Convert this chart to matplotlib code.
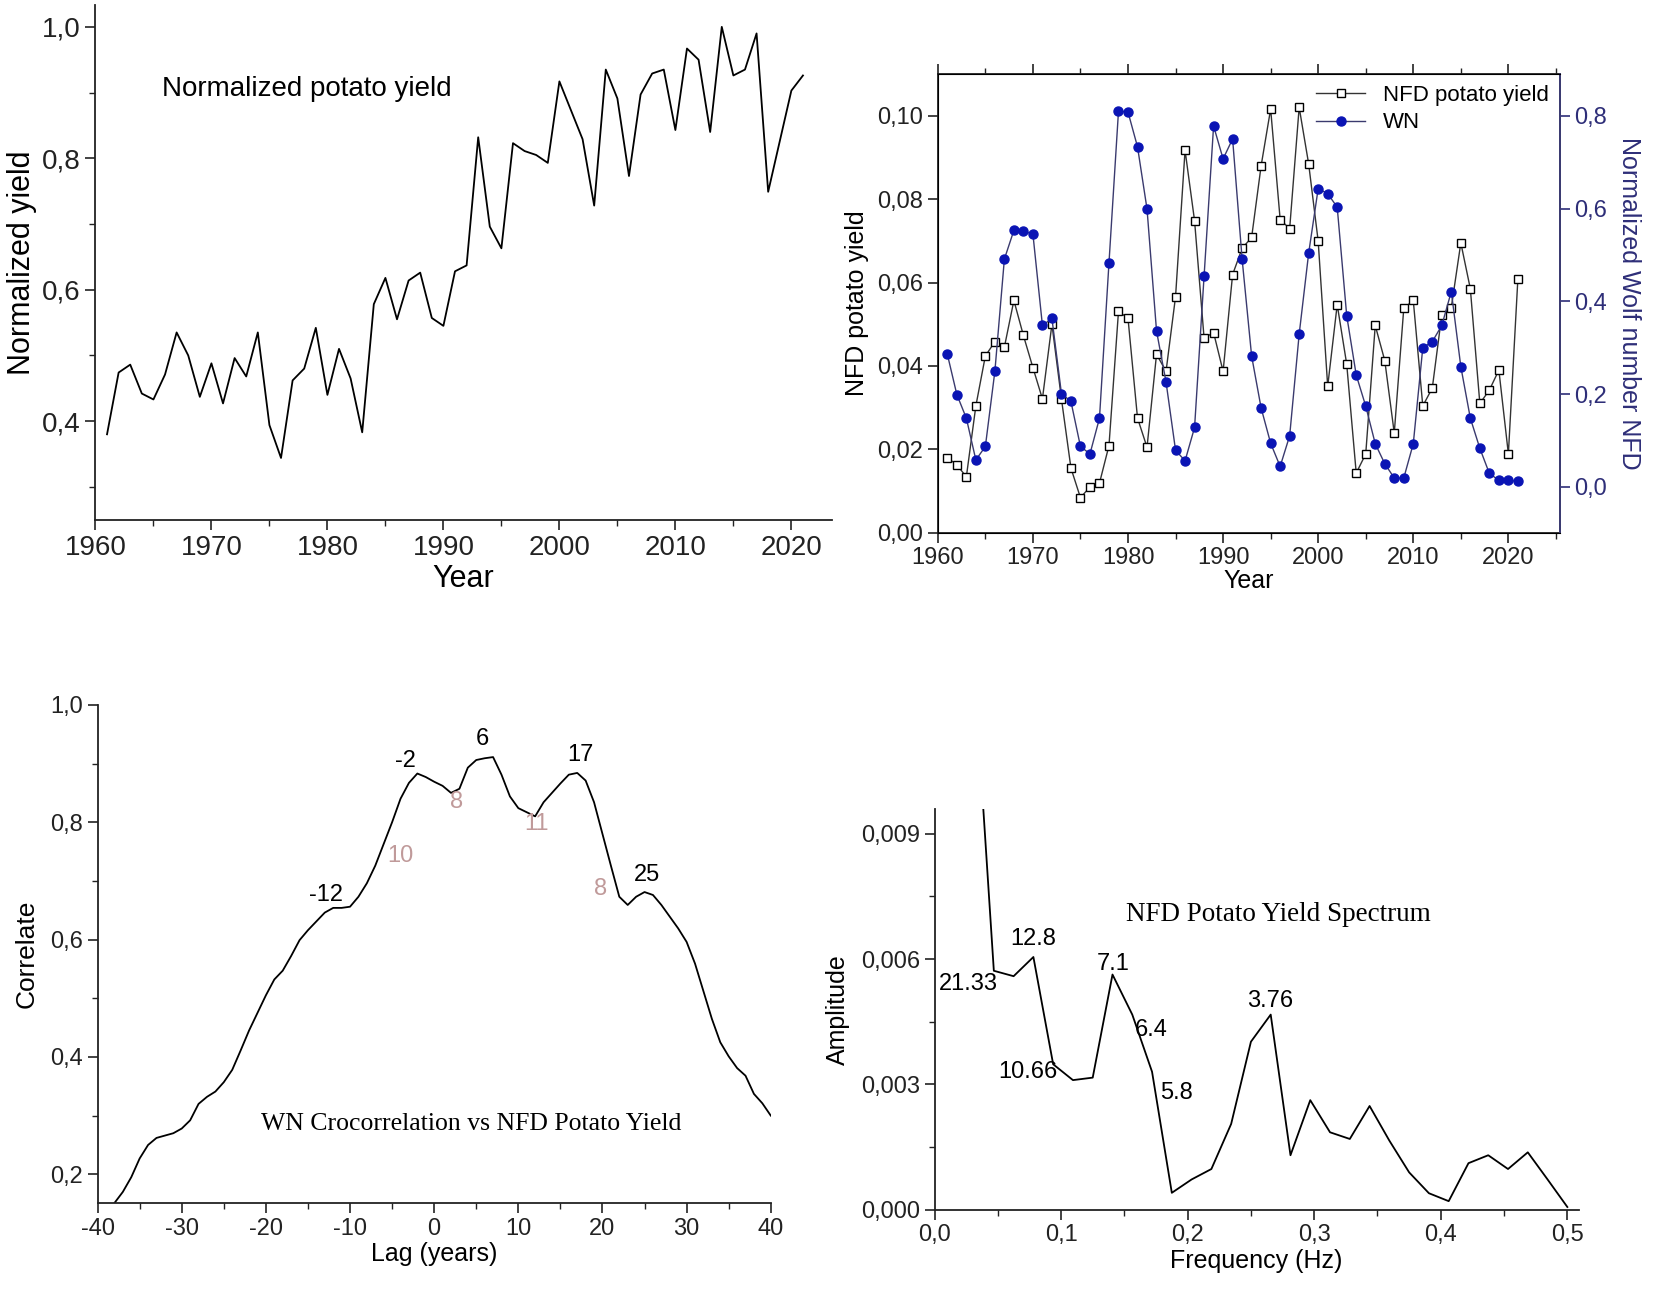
import matplotlib
matplotlib.use("Agg")
import matplotlib.pyplot as plt
from matplotlib import font_manager
from matplotlib.ticker import MultipleLocator, FuncFormatter
import numpy as np

# ---- data ----
years = list(range(1961, 2022))

norm_yield = [0.380, 0.474, 0.486, 0.442, 0.433, 0.471, 0.535, 0.500, 0.437, 0.488,
              0.427, 0.496, 0.468, 0.535, 0.394, 0.344, 0.462, 0.480, 0.542, 0.440,
              0.510, 0.465, 0.383, 0.578, 0.618, 0.555, 0.614, 0.626, 0.557, 0.545,
              0.628, 0.637, 0.832, 0.696, 0.663, 0.823, 0.811, 0.805, 0.793, 0.917,
              0.873, 0.829, 0.728, 0.935, 0.891, 0.773, 0.897, 0.929, 0.935, 0.843,
              0.967, 0.950, 0.840, 1.000, 0.926, 0.935, 0.990, 0.749, 0.826, 0.903,
              0.926]

nfd_yield = [0.0180, 0.0163, 0.0134, 0.0304, 0.0424, 0.0458, 0.0445, 0.0557, 0.0473, 0.0396,
             0.0321, 0.0500, 0.0321, 0.0155, 0.0084, 0.0110, 0.0119, 0.0209, 0.0531, 0.0514,
             0.0275, 0.0205, 0.0428, 0.0387, 0.0566, 0.0917, 0.0748, 0.0467, 0.0480, 0.0387,
             0.0619, 0.0682, 0.0708, 0.0880, 0.1016, 0.0751, 0.0729, 0.1020, 0.0884, 0.0699,
             0.0351, 0.0547, 0.0404, 0.0143, 0.0189, 0.0497, 0.0413, 0.0239, 0.0538, 0.0557,
             0.0304, 0.0347, 0.0523, 0.0540, 0.0695, 0.0585, 0.0310, 0.0342, 0.0390, 0.0189,
             0.0609]

wolf_number = [0.286, 0.199, 0.148, 0.058, 0.087, 0.249, 0.491, 0.553, 0.551, 0.545,
               0.348, 0.363, 0.201, 0.184, 0.087, 0.071, 0.148, 0.483, 0.810, 0.808,
               0.733, 0.599, 0.336, 0.226, 0.079, 0.056, 0.128, 0.454, 0.778, 0.707,
               0.750, 0.491, 0.282, 0.170, 0.094, 0.044, 0.110, 0.329, 0.504, 0.643,
               0.632, 0.603, 0.369, 0.241, 0.174, 0.093, 0.050, 0.019, 0.019, 0.093,
               0.300, 0.313, 0.348, 0.421, 0.259, 0.148, 0.083, 0.029, 0.014, 0.014,
               0.012]

lags = list(range(-38, 41))
correlation = [0.151, 0.170, 0.195, 0.227, 0.250, 0.262, 0.266, 0.270, 0.278, 0.292,
               0.320, 0.332, 0.341, 0.357, 0.378, 0.411, 0.445, 0.475, 0.505, 0.532,
               0.547, 0.572, 0.599, 0.616, 0.631, 0.646, 0.654, 0.654, 0.656, 0.673,
               0.696, 0.726, 0.763, 0.800, 0.840, 0.867, 0.883, 0.877, 0.869, 0.862,
               0.850, 0.857, 0.893, 0.906, 0.909, 0.911, 0.881, 0.844, 0.824, 0.817,
               0.810, 0.834, 0.850, 0.866, 0.881, 0.884, 0.871, 0.834, 0.780, 0.726,
               0.673, 0.659, 0.673, 0.681, 0.676, 0.659, 0.639, 0.619, 0.596, 0.559,
               0.512, 0.465, 0.425, 0.401, 0.381, 0.368, 0.337, 0.321, 0.300]
peak_labels = ["-12", "-2", "6", "17", "25"]
peak_pos = [(-12.8, 0.676), (-3.4, 0.904), (5.7, 0.941), (17.4, 0.914), (25.3, 0.710)]
gap_labels = ["10", "8", "11", "8"]
gap_pos = [(-4.0, 0.743), (2.7, 0.834), (12.2, 0.797), (19.8, 0.686)]

freq = [k / 64 for k in range(2, 33)]
amplitude = [0.0130, 0.00572, 0.00559, 0.00605, 0.00348, 0.00310, 0.00316, 0.00563,
             0.00467, 0.00330, 0.00040, 0.00072, 0.00097, 0.00205, 0.00402, 0.00467,
             0.00130, 0.00262, 0.00185, 0.00169, 0.00248, 0.00165, 0.00089, 0.00039,
             0.00020, 0.00111, 0.00130, 0.00097, 0.00137, 0.00072, 0.00006]
period_labels = ["21.33", "12.8", "10.66", "7.1", "6.4", "5.8", "3.76"]
period_pos = [(0.027, 0.0054), (0.078, 0.00648), (0.074, 0.0033), (0.141, 0.00588),
              (0.171, 0.0043), (0.191, 0.00278), (0.265, 0.0050)]

# ---- fonts ----
installed = {f.name for f in font_manager.fontManager.ttflist}
sans = "Liberation Sans Narrow" if "Liberation Sans Narrow" in installed else "Liberation Sans"
serif = "Liberation Serif"
plt.rcParams['font.family'] = [sans, 'DejaVu Sans']
plt.rcParams['axes.unicode_minus'] = False

AX_COLOR = '#222222'


def comma(decimals):
    return FuncFormatter(lambda v, p: f"{v:.{decimals}f}".replace('.', ','))


def style_axes(ax, size, box=False):
    for side in ['top', 'right']:
        ax.spines[side].set_visible(box)
    for sp in ax.spines.values():
        sp.set_color(AX_COLOR)
        sp.set_linewidth(1.3)
    ax.tick_params(which='major', direction='out', length=7, width=1.2,
                   labelsize=size, colors=AX_COLOR)
    ax.tick_params(which='minor', direction='out', length=4, width=1.0, colors=AX_COLOR)


fig = plt.figure(figsize=(16.54, 12.9), dpi=100)

# ---- top left: normalized yield ----
ax1 = fig.add_axes([0.0577, 0.5966, 0.4453, 0.3994])
ax1.plot(years, norm_yield, color='black', lw=1.3)
ax1.set_xlim(1960, 2023.5)
ax1.set_ylim(0.249, 1.033)
ax1.xaxis.set_major_locator(MultipleLocator(10))
ax1.xaxis.set_minor_locator(MultipleLocator(5))
ax1.yaxis.set_major_locator(MultipleLocator(0.2))
ax1.yaxis.set_minor_locator(MultipleLocator(0.1))
ax1.yaxis.set_major_formatter(comma(1))
style_axes(ax1, 20)
ax1.set_xlabel('Year', fontsize=22, labelpad=2)
ax1.set_ylabel('Normalized yield', fontsize=22, labelpad=4)
ax1.text(1978.2, 0.906, 'Normalized potato yield', fontsize=20, ha='center', va='center')

# ---- top right: NFD yield and Wolf number ----
ax2 = fig.add_axes([0.567, 0.587, 0.376, 0.356])
ax2.plot(years, nfd_yield, color='#333333', lw=1.0, marker='s', ms=5.5,
         mfc='white', mec='black', mew=1.0, label='NFD potato yield')
ax2.set_xlim(1960, 2025.4)
ax2.set_ylim(0, 0.1101)
ax2.xaxis.set_major_locator(MultipleLocator(10))
ax2.xaxis.set_minor_locator(MultipleLocator(5))
ax2.yaxis.set_major_locator(MultipleLocator(0.02))
ax2.yaxis.set_major_formatter(comma(2))
style_axes(ax2, 17, box=True)
ax2.tick_params(top=True, which='both', direction='out')
ax2.set_xlabel('Year', fontsize=18, labelpad=0)
ax2.set_ylabel('NFD potato yield', fontsize=18, labelpad=6)

ax2r = ax2.twinx()
ax2r.plot(years, wolf_number, color='#3a3a6e', lw=1.0, marker='o', ms=6.5,
          mfc='#0a14b4', mec='#0a14b4', label='WN')
ax2r.set_ylim(-0.099, 0.891)
ax2r.yaxis.set_major_locator(MultipleLocator(0.2))
ax2r.yaxis.set_major_formatter(comma(1))
ax2r.spines['right'].set_color('#3c3c78')
ax2r.spines['right'].set_linewidth(1.3)
ax2r.tick_params(axis='y', direction='out', length=7, width=1.2, labelsize=17,
                 colors='#2e2e78')
ax2r.set_ylabel('Normalized Wolf number NFD', fontsize=18, color='#2e2e78',
                rotation=-90, labelpad=24)
h1, l1 = ax2.get_legend_handles_labels()
h2, l2 = ax2r.get_legend_handles_labels()
ax2r.legend(h1 + h2, l1 + l2, loc='upper right', frameon=False, fontsize=16,
            handlelength=2.2, borderaxespad=0.1, labelspacing=0.3)

# ---- bottom left: cross-correlation ----
ax3 = fig.add_axes([0.059, 0.0674, 0.407, 0.3862])
ax3.plot(lags, correlation, color='black', lw=1.3)
ax3.set_xlim(-40, 40)
ax3.set_ylim(0.151, 1.0)
ax3.xaxis.set_major_locator(MultipleLocator(10))
ax3.xaxis.set_minor_locator(MultipleLocator(5))
ax3.yaxis.set_major_locator(MultipleLocator(0.2))
ax3.yaxis.set_minor_locator(MultipleLocator(0.1))
ax3.yaxis.set_major_formatter(comma(1))
style_axes(ax3, 17)
ax3.set_xlabel('Lag (years)', fontsize=18, labelpad=2)
ax3.set_ylabel('Correlate', fontsize=19, labelpad=8)
for txt, (x, y) in zip(peak_labels, peak_pos):
    ax3.text(x, y, txt, fontsize=17, ha='center', va='center', color='black')
for txt, (x, y) in zip(gap_labels, gap_pos):
    ax3.text(x, y, txt, fontsize=17, ha='center', va='center', color='#c09a9a')
ax3.text(4.4, 0.285, 'WN Crocorrelation vs NFD Potato Yield', fontsize=18.5,
         ha='center', va='center', family=serif)

# ---- bottom right: spectrum ----
ax4 = fig.add_axes([0.565, 0.0624, 0.3895, 0.3106])
ax4.plot(freq, amplitude, color='black', lw=1.3)
ax4.set_xlim(0, 0.509)
ax4.set_ylim(0, 0.0096)
ax4.xaxis.set_major_locator(MultipleLocator(0.1))
ax4.xaxis.set_minor_locator(MultipleLocator(0.05))
ax4.yaxis.set_major_locator(MultipleLocator(0.003))
ax4.yaxis.set_minor_locator(MultipleLocator(0.0015))
ax4.xaxis.set_major_formatter(comma(1))
ax4.yaxis.set_major_formatter(comma(3))
style_axes(ax4, 17)
ax4.set_xlabel('Frequency (Hz)', fontsize=18, labelpad=2)
ax4.set_ylabel('Amplitude', fontsize=18, labelpad=8)
for txt, (x, y) in zip(period_labels, period_pos):
    ax4.text(x, y, txt, fontsize=17, ha='center', va='center')
ax4.text(0.272, 0.00708, 'NFD Potato Yield Spectrum', fontsize=19.5,
         ha='center', va='center', family=serif)

fig.savefig('out.png', dpi=100)
